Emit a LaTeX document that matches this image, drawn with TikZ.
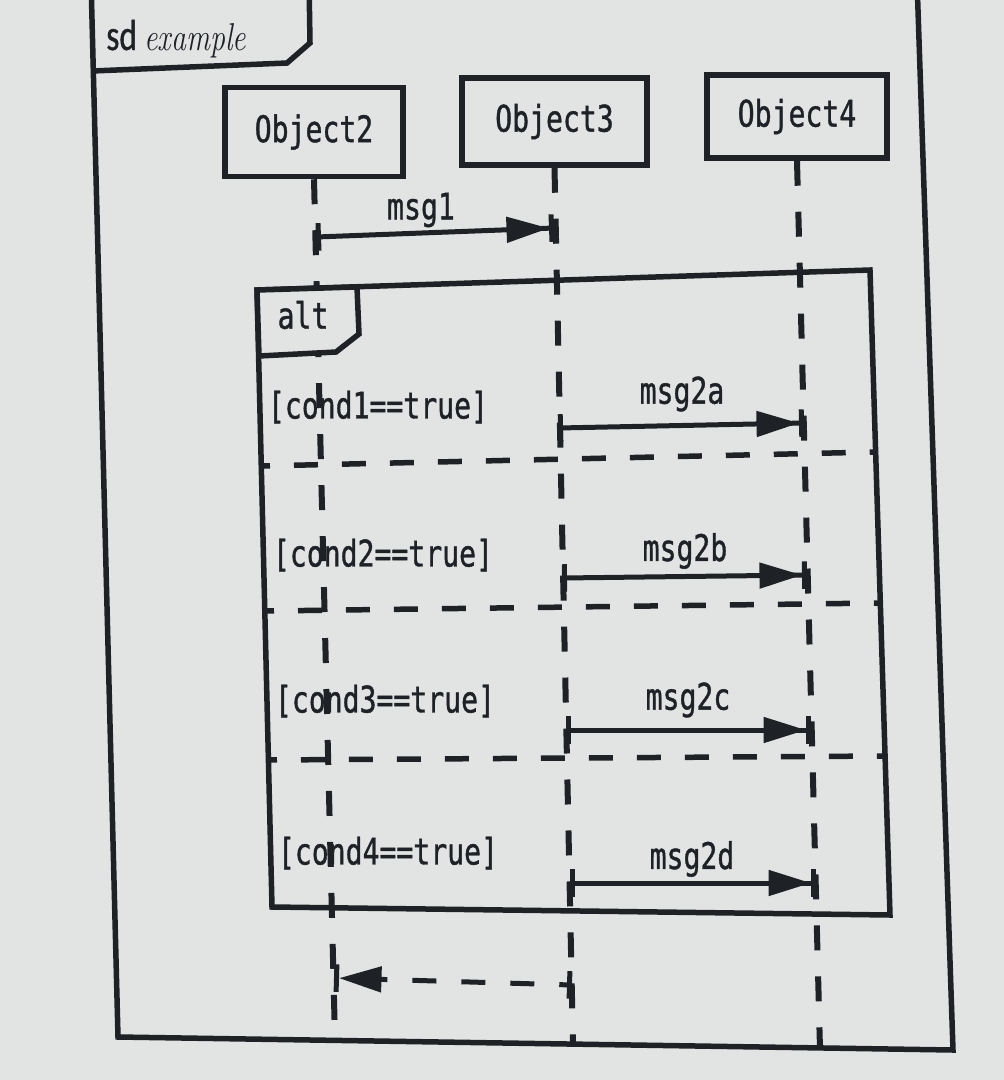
\documentclass[tikz,border=0pt]{standalone}
\usepackage{fontspec}
\usepackage{graphicx}
\usetikzlibrary{arrows.meta}
\newfontfamily\monof[FakeBold=1.2]{DejaVu Sans Mono}
\newfontfamily\sdfont[FakeBold=1]{Carlito}
\definecolor{paper}{RGB}{226,228,228}
\definecolor{ink}{RGB}{30,33,38}
\newcommand{\vtxt}[1]{\scalebox{1}[1.3]{#1}}
\begin{document}
\begin{tikzpicture}[x=0.02cm,y=-0.02cm,
  ln/.style={draw=ink,line width=0.11cm,line join=miter},
  objbox/.style={ln,fill=paper,rectangle,inner sep=0pt,text=ink,
    font=\monof\fontsize{16pt}{18pt}\selectfont},
  lbl/.style={inner sep=0pt,text=ink,font=\monof\fontsize{16pt}{18pt}\selectfont},
  lifeline/.style={draw=ink,line width=0.12cm,dash pattern=on 0.5cm off 0.52cm},
  msg/.style={draw=ink,line width=0.1cm,
    {Bar[width=0.55cm]}-{Triangle[length=0.85cm,width=0.5cm]Bar[width=0.55cm]}},
  retmsg/.style={msg,dash pattern=on 0.48cm off 0.5cm,dash phase=0.3cm},
  altsep/.style={draw=ink,line width=0.11cm,dash pattern=on 0.48cm off 0.48cm,dash phase=0.3cm}]
\useasboundingbox (0,0) rectangle (1004,1080);
\fill[paper] (0,0) rectangle (1004,1080);
\clip (0,0) rectangle (1004,1080);

% object boxes
\node[objbox,minimum width=3.56cm,minimum height=1.78cm] (o2) at (314,132) {\vtxt{Object2}};
\node[objbox,minimum width=3.70cm,minimum height=1.74cm] (o3) at (554.5,121.5) {\vtxt{Object3}};
\node[objbox,minimum width=3.60cm,minimum height=1.66cm] (o4) at (797,116.5) {\vtxt{Object4}};

% lifelines
\coordinate (o2end) at (335,1040);
\coordinate (o3end) at (573,1045);
\coordinate (o4end) at (820,1049);
\draw[lifeline] (o2.south) -- (o2end);
\draw[lifeline] (o3.south) -- (o3end);
\draw[lifeline] (o4.south) -- (o4end);

% msg1
\coordinate (m1a) at (316,237);
\coordinate (m1b) at (554,228);
\draw[msg] (m1a) -- (m1b);
\node[lbl] (l1) at (421,210) {\vtxt{msg1}};

% alt fragment
\coordinate (A1) at (257,290);
\coordinate (A2) at (870,270);
\coordinate (A3) at (890,915);
\coordinate (A4) at (272,907);
\draw[ln] (A1) -- (A2) -- (A3) -- (A4) -- cycle;
\filldraw[ln,fill=paper] (A1) -- (357,287) -- (359,334) -- (336,352) -- (259,356) -- cycle;
\node[lbl] (alt) at (303,315) {\vtxt{alt}};

% operand separators
\draw[altsep] (261,466) -- (875,452);
\draw[altsep] (265,611) -- (880,603);
\draw[altsep] (268,760) -- (885,756);

% guards
\node[lbl] (c1) at (378,407) {\vtxt{[cond1==true]}};
\node[lbl] (c2) at (383,555) {\vtxt{[cond2==true]}};
\node[lbl] (c3) at (385,701) {\vtxt{[cond3==true]}};
\node[lbl] (c4) at (388,853) {\vtxt{[cond4==true]}};

% messages inside alt
\coordinate (m2aa) at (558,428); \coordinate (m2ab) at (804,423);
\coordinate (m2ba) at (562,578); \coordinate (m2bb) at (807,575);
\coordinate (m2ca) at (566,730); \coordinate (m2cb) at (811,730);
\coordinate (m2da) at (570,883); \coordinate (m2db) at (816,883);
\draw[msg] (m2aa) -- (m2ab);
\draw[msg] (m2ba) -- (m2bb);
\draw[msg] (m2ca) -- (m2cb);
\draw[msg] (m2da) -- (m2db);
\node[lbl] (l2a) at (682,394) {\vtxt{msg2a}};
\node[lbl] (l2b) at (685,551) {\vtxt{msg2b}};
\node[lbl] (l2c) at (688,700) {\vtxt{msg2c}};
\node[lbl] (l2d) at (692,859) {\vtxt{msg2d}};

% return message
\coordinate (ra) at (572,985);
\coordinate (rb) at (334,978);
\draw[retmsg] (ra) -- (rb);

% outer sd frame
\draw[ln] (91,-20) -- (118,1037) -- (953,1050) -- (917,-20);
\draw[ln] (92,71) -- (287,63) -- (310,43) -- (309,-20);
\node[inner sep=0pt,anchor=base west,text=ink] (sd) at (106,50)
  {\vtxt{\sdfont\fontsize{19pt}{21pt}\selectfont sd {\rmfamily\itshape\fontsize{17pt}{20pt}\selectfont example}}};
\end{tikzpicture}
\end{document}
